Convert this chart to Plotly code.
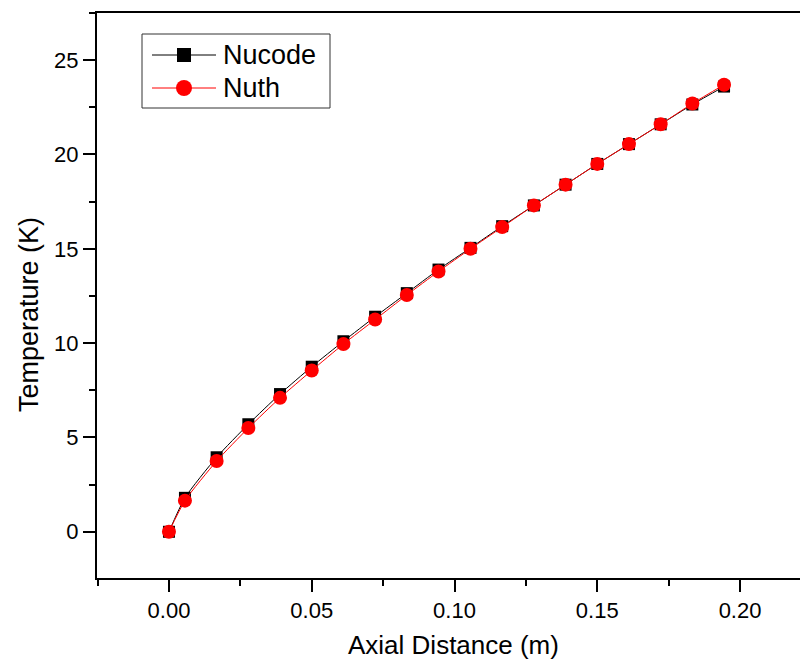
import plotly.graph_objects as go

axial_distance = [0.0, 0.0056, 0.0167, 0.0278, 0.0389, 0.05, 0.0611, 0.0722, 0.0833,
                  0.0944, 0.1056, 0.1167, 0.1278, 0.1389, 0.15, 0.1611, 0.1722, 0.1833, 0.1944]
nucode = [0.0, 1.8, 3.95, 5.7, 7.3, 8.75, 10.1, 11.4, 12.65, 13.9, 15.05, 16.2, 17.3,
          18.4, 19.5, 20.55, 21.6, 22.65, 23.6]
nuth = [0.0, 1.65, 3.75, 5.5, 7.1, 8.55, 9.95, 11.25, 12.55, 13.8, 15.0, 16.15, 17.3,
        18.4, 19.5, 20.55, 21.6, 22.7, 23.7]

x_ticks = [0.0, 0.05, 0.10, 0.15, 0.20]
x_tick_labels = ["0.00", "0.05", "0.10", "0.15", "0.20"]
y_ticks = [0, 5, 10, 15, 20, 25]
series_names = ["Nucode", "Nuth"]
series_colors = ["black", "red"]

W, H = 800, 663
ML, MR, MT, MB = 97, 0, 13, 85
PW, PH = W - ML - MR, H - MT - MB


def px(x):
    return (x - ML) / PW


def py(y):
    return 1 - (y - MT) / PH


font_family = "Liberation Sans, Arial, sans-serif"

fig = go.Figure()
fig.add_trace(go.Scatter(
    x=axial_distance, y=nucode, name=series_names[0], mode="lines+markers",
    line=dict(color=series_colors[0], width=1, shape="spline", smoothing=0.6),
    marker=dict(symbol="square", size=12, color=series_colors[0]),
))
fig.add_trace(go.Scatter(
    x=axial_distance, y=nuth, name=series_names[1], mode="lines+markers",
    line=dict(color=series_colors[1], width=1, shape="spline", smoothing=0.6),
    marker=dict(symbol="circle", size=14, color=series_colors[1]),
))

# Manual legend (box, sample lines, markers, labels)
shapes = [dict(type="rect", xref="paper", yref="paper",
               x0=px(142), x1=px(330), y0=py(34), y1=py(108),
               line=dict(color="#333333", width=1), fillcolor="white", layer="above")]
annotations = []
rows = [55, 88]
for i, (name, color) in enumerate(zip(series_names, series_colors)):
    yc = rows[i]
    shapes.append(dict(type="line", xref="paper", yref="paper",
                       x0=px(152), x1=px(216), y0=py(yc), y1=py(yc),
                       line=dict(color=color, width=1), layer="above"))
    if i == 0:
        shapes.append(dict(type="rect", xref="paper", yref="paper",
                           xsizemode="pixel", ysizemode="pixel",
                           xanchor=px(184), yanchor=py(yc),
                           x0=-7, x1=7, y0=-7, y1=7,
                           line=dict(width=0), fillcolor=color, layer="above"))
    else:
        shapes.append(dict(type="circle", xref="paper", yref="paper",
                           xsizemode="pixel", ysizemode="pixel",
                           xanchor=px(184), yanchor=py(yc),
                           x0=-8, x1=8, y0=-8, y1=8,
                           line=dict(width=0), fillcolor=color, layer="above"))
    annotations.append(dict(text=name, xref="paper", yref="paper",
                            x=px(221), y=py(yc), xanchor="left", yanchor="middle",
                            showarrow=False, font=dict(size=27, family=font_family, color="black")))

# Axis titles
annotations.append(dict(text="Axial Distance (m)", xref="paper", yref="paper",
                        x=px(453), y=py(645), xanchor="center", yanchor="middle",
                        showarrow=False, font=dict(size=26, family=font_family, color="black")))
annotations.append(dict(text="Temperature (K)", xref="paper", yref="paper",
                        x=px(29), y=py(315), xanchor="center", yanchor="middle", textangle=-90,
                        showarrow=False, font=dict(size=27, family=font_family, color="black")))

fig.update_layout(
    width=W, height=H,
    margin=dict(l=ML, r=MR, t=MT, b=MB),
    paper_bgcolor="white", plot_bgcolor="white",
    font=dict(family=font_family, color="black"),
    showlegend=False,
    shapes=shapes,
    annotations=annotations,
    xaxis=dict(
        range=[-0.0252, 0.221],
        tickvals=x_ticks, ticktext=x_tick_labels,
        ticks="outside", ticklen=12, tickwidth=2, tickcolor="black",
        minor=dict(dtick=0.025, tick0=0, ticks="outside", ticklen=6, tickwidth=2, tickcolor="black"),
        showline=True, linewidth=2, linecolor="black", mirror=True,
        showgrid=False, zeroline=False,
        tickfont=dict(size=22),
    ),
    yaxis=dict(
        range=[-2.45, 27.5],
        tickvals=y_ticks,
        ticks="outside", ticklen=12, tickwidth=2, tickcolor="black",
        minor=dict(dtick=2.5, tick0=0, ticks="outside", ticklen=6, tickwidth=2, tickcolor="black"),
        showline=True, linewidth=2, linecolor="black", mirror=False,
        showgrid=False, zeroline=False,
        tickfont=dict(size=22),
    ),
)

fig.write_html("out.html")
